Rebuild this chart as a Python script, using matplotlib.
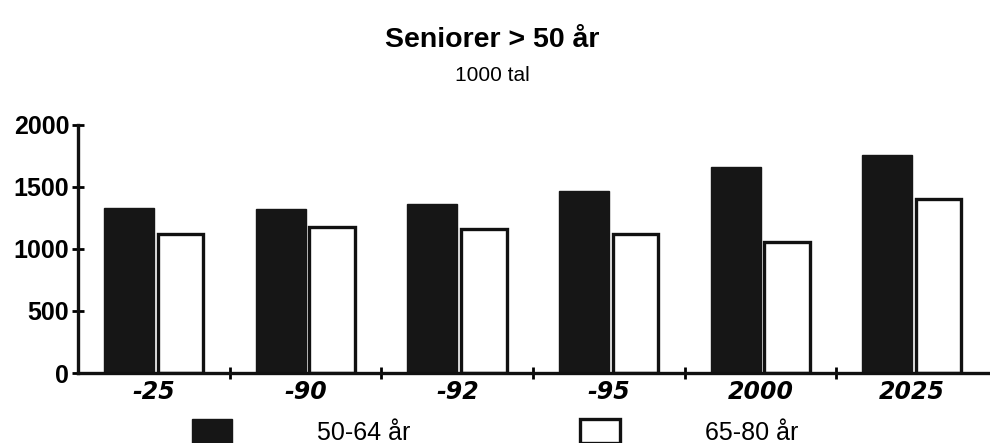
import matplotlib
matplotlib.use("Agg")
import matplotlib.pyplot as plt
import numpy as np
from matplotlib.patches import Patch

plt.rcParams['font.family'] = ['Liberation Sans', 'DejaVu Sans']
plt.rcParams['font.stretch'] = 'normal'

# data (1000 tal)
years = ['-25', '-90', '-92', '-95', '2000', '2025']
age_50_64 = [1330, 1320, 1360, 1470, 1660, 1760]
age_65_80 = [1120, 1180, 1160, 1120, 1060, 1400]
yticks = [0, 500, 1000, 1500, 2000]

fig = plt.figure(figsize=(9.9, 4.43), dpi=100)
ax = fig.add_axes([0.079, 0.158, 0.919, 0.560])

x = np.arange(len(years))
w = 0.33
ax.bar(x - w / 2, age_50_64, w, color='#161616', edgecolor='#161616', linewidth=1,
       label='50-64 år')
ax.bar(x + w / 2 + 0.01, age_65_80, w - 0.03, color='white', edgecolor='#111111',
       linewidth=2.4, label='65-80 år')

ax.set_xlim(-0.5, len(years) - 0.5)
ax.set_ylim(0, 2000)
ax.set_yticks(yticks)
ax.set_yticklabels([str(v) for v in yticks], fontsize=18, fontweight='bold')

ax.set_xticks(x)
ax.set_xticklabels(years, fontsize=17, style='italic', fontweight='bold',
                   family='DejaVu Sans')
ax.set_xticks(x[:-1] + 0.5, minor=True)
ax.tick_params(axis='x', which='major', length=0, pad=5)
ax.tick_params(axis='x', which='minor', direction='inout', length=9, width=2)
ax.tick_params(axis='y', direction='inout', length=9, width=2, pad=2)

for s in ['top', 'right']:
    ax.spines[s].set_visible(False)
for s in ['left', 'bottom']:
    ax.spines[s].set_linewidth(2.4)
    ax.spines[s].set_color('#111111')

fig.text(0.497, 0.91, 'Seniorer > 50 år', ha='center', va='center',
         fontsize=20.5, fontweight='bold')
fig.text(0.497, 0.83, '1000 tal', ha='center', va='center', fontsize=15)

handles = [Patch(facecolor='#161616', edgecolor='#161616'),
           Patch(facecolor='white', edgecolor='#111111', linewidth=2.4)]
fig.legend(handles, ['50-64 år', '65-80 år'], loc='center', ncol=2,
           bbox_to_anchor=(0.5, 0.025), frameon=False, fontsize=18,
           handlelength=1.6, handleheight=1.1, handletextpad=3.4,
           columnspacing=6.8)

fig.savefig('out.png', dpi=100, facecolor='white')
